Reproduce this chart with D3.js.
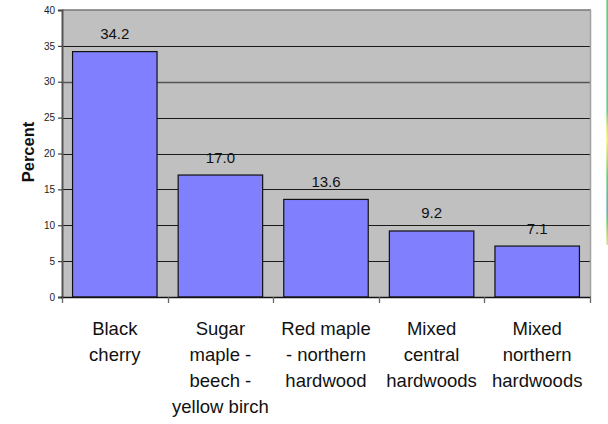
<!DOCTYPE html>
<html>
<head>
<meta charset="utf-8">
<script src="https://cdn.jsdelivr.net/npm/d3@7"></script>
<style>
  html, body { margin: 0; padding: 0; background: #fff; }
  svg { display: block; font-family: "Liberation Sans", Arial, sans-serif; }
</style>
</head>
<body>
<svg id="chart" width="608" height="424"></svg>
<script>
// Forest types and their share (percent)
const categories = ["Black cherry", "Sugar maple - beech - yellow birch", "Red maple - northern hardwood", "Mixed central hardwoods", "Mixed northern hardwoods"];
const categoryLines = [
  ["Black", "cherry"],
  ["Sugar", "maple -", "beech -", "yellow birch"],
  ["Red maple", "- northern", "hardwood"],
  ["Mixed", "central", "hardwoods"],
  ["Mixed", "northern", "hardwoods"]
];
const percents = [34.2, 17.0, 13.6, 9.2, 7.1];
const yTicks = [0, 5, 10, 15, 20, 25, 30, 35, 40];
const yTitle = "Percent";

const svg = d3.select("#chart");
const plotLeft = 62, plotRight = 590, plotTop = 10, plotBottom = 297;

const x = d3.scaleBand()
  .domain(categories)
  .range([plotLeft, plotRight])
  .paddingInner(0.2)
  .paddingOuter(0.1);

const y = d3.scaleLinear().domain([0, 40]).range([plotBottom, plotTop]);

// plot background
svg.append("rect")
  .attr("x", plotLeft).attr("y", plotTop)
  .attr("width", plotRight - plotLeft).attr("height", plotBottom - plotTop)
  .attr("fill", "#c0c0c0");

// horizontal gridlines
svg.append("g")
  .selectAll("line")
  .data(yTicks.filter(d => d > 0 && d < 40))
  .join("line")
  .attr("x1", plotLeft).attr("x2", plotRight)
  .attr("y1", d => Math.round(y(d)) + 0.5).attr("y2", d => Math.round(y(d)) + 0.5)
  .attr("stroke", d => d === 30 ? "#555" : "#1a1a1a")
  .attr("stroke-width", d => d === 30 ? 1.6 : 1.2);

// top and right frame
svg.append("line")
  .attr("x1", plotLeft).attr("x2", plotRight + 1)
  .attr("y1", plotTop).attr("y2", plotTop)
  .attr("stroke", "#777").attr("stroke-width", 1.5);
svg.append("line")
  .attr("x1", plotRight + 0.5).attr("x2", plotRight + 0.5)
  .attr("y1", plotTop).attr("y2", plotBottom)
  .attr("stroke", "#a0a0a0").attr("stroke-width", 1.5);

// bars
svg.append("g")
  .selectAll("rect")
  .data(percents)
  .join("rect")
  .attr("x", (d, i) => x(categories[i]))
  .attr("y", d => y(d))
  .attr("width", x.bandwidth())
  .attr("height", d => y(0) - y(d))
  .attr("fill", "#8080ff")
  .attr("stroke", "#111")
  .attr("stroke-width", 1.2);

// value labels
svg.append("g")
  .selectAll("text")
  .data(percents)
  .join("text")
  .attr("x", (d, i) => x(categories[i]) + x.bandwidth() / 2)
  .attr("y", d => y(d) - 12.5)
  .attr("text-anchor", "middle")
  .attr("font-size", 15)
  .attr("fill", "#111")
  .text(d => d3.format(".1f")(d));

// y axis
const yAxis = svg.append("g")
  .attr("transform", `translate(${plotLeft},0)`)
  .call(d3.axisLeft(y).tickValues(yTicks).tickSize(4).tickPadding(3).tickFormat(d3.format("d")));
yAxis.select(".domain").attr("stroke", "#555").attr("stroke-width", 2);
yAxis.selectAll(".tick line").attr("stroke", "#444").attr("stroke-width", 1.2);
yAxis.selectAll(".tick text")
  .attr("font-size", 10)
  .attr("font-family", "Liberation Sans, Arial, sans-serif")
  .attr("fill", "#222");

// x axis baseline with category boundary ticks
svg.append("line")
  .attr("x1", plotLeft - 1).attr("x2", plotRight + 1)
  .attr("y1", plotBottom + 0.5).attr("y2", plotBottom + 0.5)
  .attr("stroke", "#111").attr("stroke-width", 1.5);
const bounds = d3.range(categories.length + 1).map(i => plotLeft + i * (plotRight - plotLeft) / categories.length);
svg.append("g")
  .selectAll("line")
  .data(bounds)
  .join("line")
  .attr("x1", d => Math.round(d) + 0.5).attr("x2", d => Math.round(d) + 0.5)
  .attr("y1", plotBottom).attr("y2", plotBottom + 6)
  .attr("stroke", "#666").attr("stroke-width", 1.3);

// category labels
const cat = svg.append("g")
  .selectAll("text")
  .data(categoryLines)
  .join("text")
  .attr("text-anchor", "middle")
  .attr("font-size", 18.5)
  .attr("fill", "#111");
cat.each(function(lines, i) {
  const cx = x(categories[i]) + x.bandwidth() / 2;
  d3.select(this).selectAll("tspan")
    .data(lines)
    .join("tspan")
    .attr("x", cx)
    .attr("y", (d, j) => 335 + j * 26)
    .text(d => d);
});

// y axis title
svg.append("text")
  .attr("transform", "translate(34,152) rotate(-90)")
  .attr("text-anchor", "middle")
  .attr("font-size", 16.5)
  .attr("font-weight", "bold")
  .attr("fill", "#111")
  .text(yTitle);

// thin coloured edge strip at the right border
const grad = svg.append("defs").append("linearGradient")
  .attr("id", "edgeStrip").attr("x1", 0).attr("y1", 0).attr("x2", 0).attr("y2", 1);
[[0, "#2fcc4a"], [0.2, "#27c27a"], [0.45, "#2fc86a"], [0.52, "#c8e02a"], [0.57, "#f0f020"], [0.63, "#b8d832"],
 [0.72, "#2ccc4a"], [0.86, "#3a9ab0"], [0.9, "#30cc40"], [0.96, "#a8d040"], [1, "#c8d890"]]
  .forEach(([o, c]) => grad.append("stop").attr("offset", o).attr("stop-color", c));
svg.append("rect")
  .attr("x", 606.5).attr("y", 0)
  .attr("width", 1.3).attr("height", 245)
  .attr("fill", "url(#edgeStrip)");
</script>
</body>
</html>
